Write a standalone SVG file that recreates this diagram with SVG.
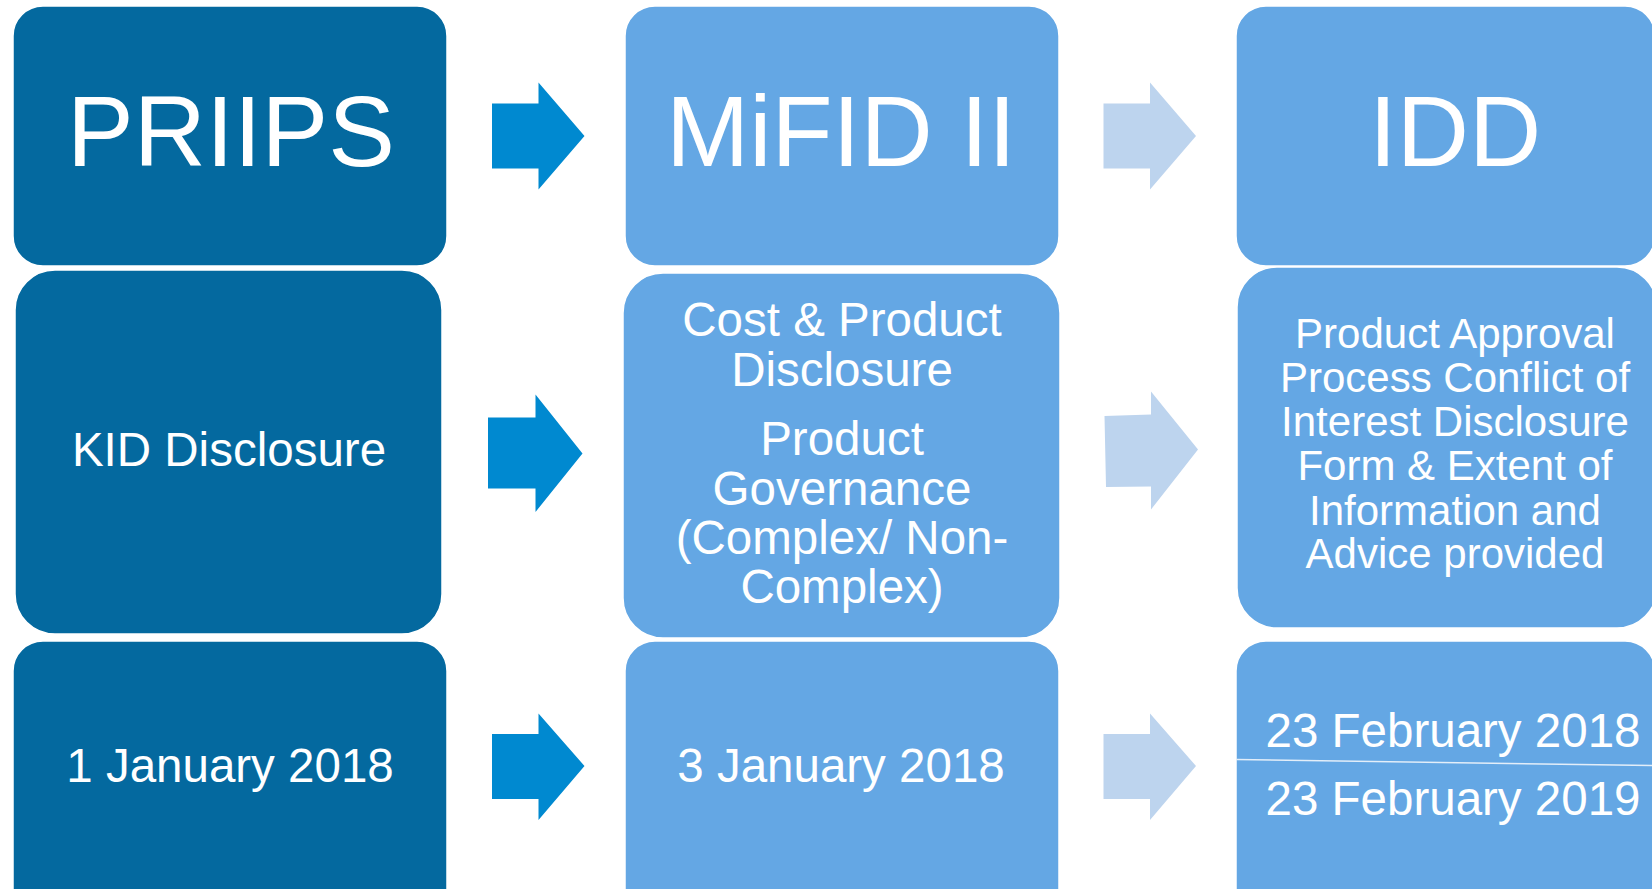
<svg xmlns="http://www.w3.org/2000/svg" width="1652" height="889" viewBox="0 0 1652 889">
<style>
.dark{fill:#04699F;stroke:#ffffff;stroke-width:1.5}
.light{fill:#64A7E4;stroke:#ffffff;stroke-width:1.5}
.adark{fill:#0089D0}
.alight{fill:#BDD4EE}
text{font-family:"Liberation Sans",Arial,sans-serif;fill:#ffffff;text-anchor:middle}
.big{font-size:100px}
.mid{font-size:47.5px}
.sm{font-size:42px}
</style>
<rect width="1652" height="889" fill="#ffffff"/>
<g id="priips">
<rect class="dark" x="13" y="6" width="434" height="260" rx="30"/>
<text class="big" x="231" y="166">PRIIPS</text>
</g>
<g id="mifid">
<rect class="light" x="625" y="6" width="434" height="260" rx="30"/>
<text class="big" x="841" y="166">MiFID II</text>
</g>
<g id="idd">
<rect class="light" x="1236" y="6" width="419" height="260" rx="30"/>
<text class="big" x="1455" y="166">IDD</text>
</g>
<g id="kid">
<rect class="dark" x="15" y="270" width="427" height="364" rx="40"/>
<text class="mid" x="229" y="466">KID Disclosure</text>
</g>
<g id="mifid-scope">
<rect class="light" x="623" y="273" width="437" height="365" rx="40"/>
<text class="mid" x="842" y="336">Cost &amp; Product</text>
<text class="mid" x="842" y="386">Disclosure</text>
<text class="mid" x="842" y="455">Product</text>
<text class="mid" x="842" y="505">Governance</text>
<text class="mid" x="842" y="554">(Complex/ Non-</text>
<text class="mid" x="842" y="603">Complex)</text>
</g>
<g id="idd-scope">
<rect class="light" x="1237" y="267" width="420" height="361" rx="40"/>
<text class="sm" x="1455" y="348">Product Approval</text>
<text class="sm" x="1455" y="392">Process Conflict of</text>
<text class="sm" x="1455" y="436">Interest Disclosure</text>
<text class="sm" x="1455" y="480">Form &amp; Extent of</text>
<text class="sm" x="1455" y="525">Information and</text>
<text class="sm" x="1455" y="568">Advice provided</text>
</g>
<g id="priips-date">
<rect class="dark" x="13" y="641" width="434" height="280" rx="30"/>
<text class="mid" x="230" y="782">1 January 2018</text>
</g>
<g id="mifid-date">
<rect class="light" x="625" y="641" width="434" height="280" rx="30"/>
<text class="mid" x="841" y="782">3 January 2018</text>
</g>
<g id="idd-date">
<rect class="light" x="1236" y="641" width="419" height="280" rx="30"/>
<text class="mid" x="1453" y="747">23 February 2018</text>
<line x1="1236" y1="759.5" x2="1652" y2="765.5" stroke="#E3EEF9" stroke-width="1.5"/>
<text class="mid" x="1453" y="815">23 February 2019</text>
</g>
<g id="connectors">
<polygon class="adark" points="492,103.5 538.5,103.5 538.5,82.5 584.5,136 538.5,189.5 538.5,168.5 492,168.5"/>
<polygon class="alight" points="1103.5,103.5 1150,103.5 1150,82.5 1196,136 1150,189.5 1150,168.5 1103.5,168.5"/>
<polygon class="adark" points="488,417.5 535.5,417.5 535.5,394.5 582.5,453.5 535.5,512 535.5,488.5 488,488.5"/>
<polygon class="alight" points="1104.5,416 1151,414.5 1151,391.5 1198,449.5 1151,509.5 1151,486.5 1106,487"/>
<polygon class="adark" points="492,734 538.5,734 538.5,713.5 584.5,766 538.5,820 538.5,799 492,799"/>
<polygon class="alight" points="1103.5,734 1150,734 1150,713.5 1196,766 1150,820 1150,799 1103.5,799"/>
</g>
</svg>
